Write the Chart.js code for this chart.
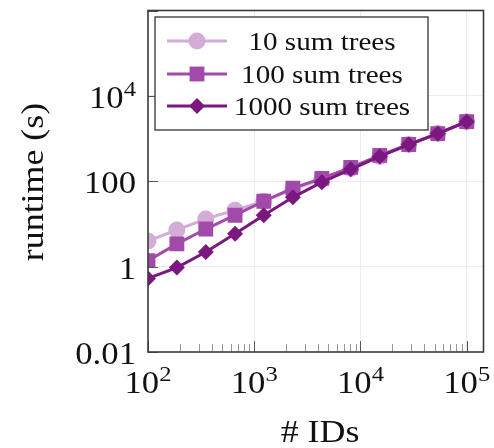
<!DOCTYPE html>
<html lang="en">
<head>
<meta charset="UTF-8">
<title>Runtime vs number of IDs</title>
<script src="https://cdn.jsdelivr.net/npm/chart.js@4.4.0/dist/chart.umd.min.js"></script>
<style>
  html, body { margin: 0; padding: 0; background: #fff; }
  #wrap { width: 494px; height: 448px; }
</style>
</head>
<body>
<div id="wrap"><canvas id="runtimeChart" width="494" height="448"></canvas></div>
<script>
// values (log-log)
var numIds    = [100, 187, 350, 660, 1230, 2310, 4330, 8110, 15200, 28500, 53400, 100000];
var trees10   = [4.0, 7.2, 13.1, 21, 34, 65, 111, 200, 381, 725, 1307, 2490];
var trees100  = [1.38, 3.4, 7.6, 16, 34, 69, 117, 212, 403, 725, 1307, 2490];
var trees1000 = [0.53, 0.95, 2.2, 5.9, 16, 42, 95, 190, 381, 725, 1307, 2490];
var seriesNames = ['10 sum trees', '100 sum trees', '1000 sum trees'];

var yTicks = [0.01, 1, 100, 10000, 1000000];
var yTickLabels = ['0.01', '1', '100', '10^4', ''];
var xTicks = [100, 1000, 10000, 100000];
var xTickLabels = ['10^2', '10^3', '10^4', '10^5'];

var SERIF = '"Liberation Serif", "DejaVu Serif", serif';
var STRETCH = 1.12;

function pts(vals) {
  return numIds.map(function (x, i) { return { x: x, y: vals[i] }; });
}

function mkSet(label, vals, color, style, radius, order) {
  return {
    label: label,
    data: pts(vals),
    borderColor: color,
    backgroundColor: color,
    borderWidth: 3,
    pointStyle: style,
    pointRadius: radius,
    pointHoverRadius: radius,
    pointBorderWidth: 0,
    fill: false,
    tension: 0,
    order: order
  };
}

var datasets = [
  mkSet(seriesNames[0], trees10, '#d3acd8', 'circle', 8.5, 3),
  mkSet(seriesNames[1], trees100, '#a24aa9', 'rect', 10.5, 2),
  mkSet(seriesNames[2], trees1000, '#7a1880', 'rectRot', 8, 1)
];

// draw text a bit wider to mimic the Computer Modern look
function wideText(ctx, txt, x, y, size, align) {
  ctx.save();
  ctx.font = size + 'px ' + SERIF;
  var w = ctx.measureText(txt).width * STRETCH;
  var left = align === 'center' ? x - w / 2 : (align === 'right' ? x - w : x);
  ctx.translate(left, y);
  ctx.scale(STRETCH, 1);
  ctx.textAlign = 'left';
  ctx.fillText(txt, 0, 0);
  ctx.restore();
  return w;
}

function measureWide(ctx, txt, size) {
  ctx.save();
  ctx.font = size + 'px ' + SERIF;
  var w = ctx.measureText(txt).width * STRETCH;
  ctx.restore();
  return w;
}

// "10^4" -> base with superscript
function texLabel(ctx, label, x, y, align) {
  var big = 31, small = 22;
  var parts = label.split('^');
  var wb = measureWide(ctx, parts[0], big);
  var we = parts.length > 1 ? measureWide(ctx, parts[1], small) : 0;
  var total = wb + we;
  var left = align === 'center' ? x - total / 2 : (align === 'right' ? x - total : x);
  wideText(ctx, parts[0], left, y, big, 'left');
  if (parts.length > 1) wideText(ctx, parts[1], left + wb, y - 12, small, 'left');
}

var decorPlugin = {
  id: 'decor',
  afterDraw: function (chart) {
    var ctx = chart.ctx;
    var area = chart.chartArea;
    var xs = chart.scales.x, ys = chart.scales.y;
    ctx.save();

    // minor and major tick marks along the bottom axis
    ctx.strokeStyle = '#999';
    ctx.lineWidth = 1;
    [100, 1000, 10000].forEach(function (d) {
      for (var k = 2; k <= 9; k++) {
        var px = Math.round(xs.getPixelForValue(k * d)) + 0.5;
        ctx.beginPath();
        ctx.moveTo(px, area.bottom);
        ctx.lineTo(px, area.bottom - 8);
        ctx.stroke();
      }
    });
    ctx.strokeStyle = '#555';
    xTicks.forEach(function (v) {
      var px = Math.round(xs.getPixelForValue(v)) + 0.5;
      ctx.beginPath();
      ctx.moveTo(px, area.bottom);
      ctx.lineTo(px, area.bottom - 11);
      ctx.stroke();
    });
    yTicks.forEach(function (v) {
      var py = Math.round(ys.getPixelForValue(v)) + 0.5;
      ctx.beginPath();
      ctx.moveTo(area.left, py);
      ctx.lineTo(area.left + 10, py);
      ctx.stroke();
    });

    // frame
    ctx.strokeStyle = '#3a3a3a';
    ctx.lineWidth = 1.6;
    ctx.strokeRect(area.left, area.top, area.right - area.left, area.bottom - area.top);

    // tick labels
    ctx.fillStyle = '#111';
    ctx.textBaseline = 'alphabetic';
    yTicks.forEach(function (v, i) {
      if (!yTickLabels[i]) return;
      var py = ys.getPixelForValue(v);
      texLabel(ctx, yTickLabels[i], 136, py + 12, 'right');
    });
    xTicks.forEach(function (v, i) {
      var px = xs.getPixelForValue(v);
      texLabel(ctx, xTickLabels[i], px, 393, 'center');
    });

    // axis titles
    wideText(ctx, '# IDs', 320, 442, 32, 'center');
    ctx.save();
    ctx.translate(43, 182);
    ctx.rotate(-Math.PI / 2);
    wideText(ctx, 'runtime (s)', 0, 0, 32, 'center');
    ctx.restore();

    // legend
    var box = { l: 155, t: 17, r: 428, b: 130 };
    ctx.fillStyle = '#fff';
    ctx.fillRect(box.l, box.t, box.r - box.l, box.b - box.t);
    ctx.strokeStyle = '#333';
    ctx.lineWidth = 1.3;
    ctx.strokeRect(box.l, box.t, box.r - box.l, box.b - box.t);
    var rows = [41, 74, 106];
    chart.data.datasets.forEach(function (ds, i) {
      var ry = rows[i];
      ctx.strokeStyle = ds.borderColor;
      ctx.lineWidth = 3;
      ctx.beginPath();
      ctx.moveTo(167, ry);
      ctx.lineTo(227, ry);
      ctx.stroke();
      ctx.fillStyle = ds.backgroundColor;
      Chart.helpers.drawPoint(ctx, {
        pointStyle: ds.pointStyle, radius: ds.pointRadius, rotation: 0, borderWidth: 0
      }, 197, ry);
      ctx.fillStyle = '#111';
      wideText(ctx, ds.label, 322, ry + 9, 26, 'center');
    });

    ctx.restore();
  }
};

new Chart(document.getElementById('runtimeChart'), {
  type: 'line',
  data: { datasets: datasets },
  options: {
    responsive: false,
    animation: false,
    events: [],
    layout: { padding: { top: 9, right: 4, left: 0, bottom: 0 } },
    plugins: { legend: { display: false }, tooltip: { enabled: false } },
    scales: {
      x: {
        type: 'logarithmic',
        min: 100,
        max: 144000,
        afterBuildTicks: function (s) { s.ticks = xTicks.map(function (v) { return { value: v }; }); },
        afterFit: function (s) { s.height = 96; },
        ticks: { display: false },
        grid: {
          drawTicks: false,
          color: function (c) { return c.tick && c.tick.value > 100 ? '#ececec' : 'rgba(0,0,0,0)'; }
        },
        border: { display: false }
      },
      y: {
        type: 'logarithmic',
        min: 0.01,
        max: 1000000,
        afterBuildTicks: function (s) { s.ticks = yTicks.map(function (v) { return { value: v }; }); },
        afterFit: function (s) { s.width = 148; },
        ticks: { display: false },
        grid: {
          drawTicks: false,
          color: function (c) { return c.tick && c.tick.value > 0.01 && c.tick.value < 1000000 ? '#ececec' : 'rgba(0,0,0,0)'; }
        },
        border: { display: false }
      }
    }
  },
  plugins: [decorPlugin]
});
</script>
</body>
</html>
